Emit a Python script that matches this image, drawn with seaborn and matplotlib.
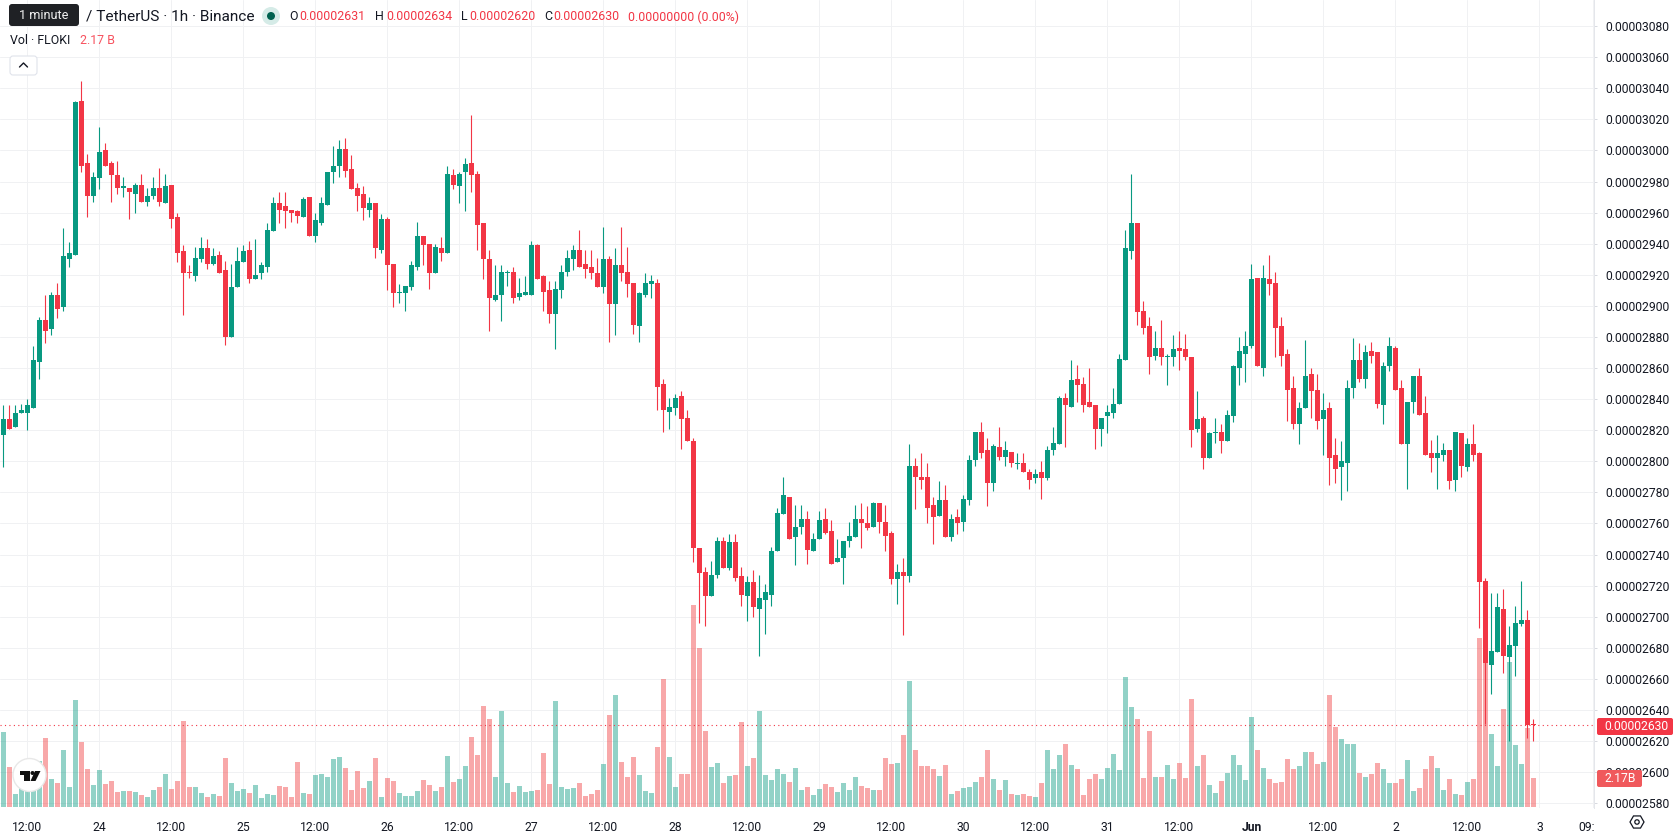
import matplotlib
matplotlib.use("Agg")
import matplotlib.pyplot as plt
import numpy as np
import pandas as pd
import seaborn as sns
from matplotlib.patches import Circle, FancyBboxPatch, Polygon, Rectangle, RegularPolygon
from matplotlib.ticker import FuncFormatter
from matplotlib.transforms import Bbox

# FLOKI/USDT hourly candles, prices in units of 0.00000001
opens = [
    2817, 2827, 2822, 2831, 2831, 2834, 2864, 2891, 2885, 2907,
    2899, 2930, 2933, 3032, 2992, 2971, 2982, 3000, 2992, 2984,
    2976, 2976, 2972, 2978, 2967, 2971, 2976, 2966, 2978, 2957,
    2935, 2922, 2919, 2930, 2937, 2927, 2933, 2923, 2880, 2912,
    2928, 2936, 2917, 2921, 2925, 2948, 2966, 2964, 2962, 2961,
    2957, 2970, 2945, 2953, 2965, 2986, 2990, 3001, 2988, 2976,
    2972, 2962, 2966, 2936, 2956, 2927, 2908, 2908, 2912, 2925,
    2945, 2940, 2921, 2937, 2934, 2984, 2977, 2986, 2992, 2985,
    2953, 2930, 2904, 2907, 2921, 2922, 2906, 2907, 2907, 2939,
    2919, 2910, 2895, 2910, 2922, 2930, 2936, 2927, 2925, 2921,
    2912, 2930, 2901, 2926, 2922, 2915, 2887, 2907, 2914, 2915,
    2850, 2832, 2834, 2842, 2828, 2813, 2744, 2729, 2713, 2727,
    2749, 2731, 2748, 2726, 2713, 2722, 2705, 2711, 2714, 2742,
    2766, 2777, 2751, 2758, 2763, 2742, 2750, 2763, 2755, 2735,
    2738, 2749, 2751, 2763, 2760, 2758, 2773, 2761, 2754, 2724,
    2729, 2726, 2797, 2790, 2790, 2772, 2765, 2775, 2751, 2764,
    2761, 2775, 2801, 2819, 2807, 2786, 2809, 2803, 2806, 2798,
    2799, 2793, 2789, 2793, 2789, 2807, 2811, 2841, 2835, 2853,
    2850, 2838, 2836, 2821, 2829, 2831, 2837, 2865, 2935, 2953,
    2897, 2887, 2868, 2873, 2867, 2867, 2873, 2872, 2867, 2821,
    2828, 2802, 2818, 2819, 2813, 2829, 2860, 2869, 2874, 2918,
    2860, 2917, 2915, 2887, 2869, 2847, 2824, 2834, 2856, 2846,
    2827, 2834, 2804, 2796, 2799, 2847, 2865, 2853, 2871, 2870,
    2836, 2861, 2873, 2847, 2811, 2838, 2855, 2831, 2805, 2802,
    2804, 2807, 2788, 2818, 2796, 2811, 2805, 2723, 2669, 2677,
    2705, 2674, 2681, 2695, 2698, 2631,
]
closes = [
    2827, 2821, 2831, 2833, 2836, 2865, 2891, 2884, 2907, 2898,
    2932, 2934, 3031, 2990, 2971, 2983, 2999, 2990, 2984, 2976,
    2977, 2973, 2978, 2967, 2971, 2976, 2967, 2977, 2956, 2934,
    2921, 2921, 2931, 2937, 2927, 2932, 2921, 2880, 2912, 2929,
    2935, 2917, 2920, 2926, 2949, 2966, 2962, 2961, 2960, 2958,
    2969, 2945, 2955, 2966, 2986, 2990, 3001, 2987, 2975, 2971,
    2963, 2966, 2937, 2956, 2926, 2908, 2909, 2913, 2926, 2945,
    2939, 2921, 2938, 2934, 2985, 2978, 2985, 2991, 2984, 2952,
    2930, 2905, 2907, 2922, 2922, 2905, 2908, 2909, 2939, 2917,
    2909, 2895, 2911, 2922, 2931, 2936, 2925, 2924, 2921, 2912,
    2930, 2901, 2926, 2921, 2914, 2888, 2908, 2915, 2916, 2848,
    2833, 2835, 2841, 2827, 2813, 2744, 2728, 2713, 2727, 2749,
    2731, 2748, 2725, 2714, 2722, 2706, 2712, 2716, 2742, 2767,
    2778, 2750, 2758, 2763, 2743, 2750, 2762, 2754, 2734, 2738,
    2749, 2752, 2763, 2760, 2757, 2773, 2761, 2752, 2724, 2729,
    2726, 2797, 2790, 2788, 2770, 2764, 2775, 2751, 2763, 2760,
    2776, 2801, 2819, 2805, 2786, 2810, 2803, 2807, 2799, 2799,
    2793, 2788, 2792, 2789, 2807, 2812, 2841, 2836, 2852, 2849,
    2836, 2835, 2821, 2828, 2832, 2837, 2866, 2937, 2953, 2896,
    2886, 2867, 2873, 2867, 2868, 2872, 2871, 2867, 2820, 2827,
    2802, 2818, 2819, 2813, 2830, 2861, 2871, 2874, 2917, 2861,
    2918, 2914, 2886, 2868, 2846, 2824, 2834, 2855, 2845, 2826,
    2833, 2802, 2795, 2800, 2847, 2865, 2853, 2870, 2868, 2837,
    2861, 2874, 2846, 2811, 2838, 2855, 2830, 2804, 2802, 2805,
    2807, 2787, 2819, 2797, 2811, 2804, 2722, 2670, 2678, 2706,
    2675, 2682, 2696, 2698, 2630, 2630,
]
highs = [
    2836, 2836, 2836, 2837, 2840, 2874, 2893, 2907, 2909, 2915,
    2950, 2941, 3032, 3045, 2998, 2986, 3015, 3005, 2993, 2993,
    2983, 2976, 2979, 2985, 2976, 2983, 2989, 2985, 2978, 2960,
    2939, 2926, 2938, 2944, 2943, 2937, 2935, 2929, 2927, 2938,
    2939, 2942, 2943, 2928, 2953, 2970, 2973, 2973, 2962, 2962,
    2970, 2970, 2960, 2970, 2986, 3003, 3007, 3008, 2997, 2979,
    2977, 2970, 2966, 2959, 2957, 2927, 2914, 2913, 2929, 2954,
    2945, 2940, 2940, 2944, 2990, 2988, 2986, 2995, 3023, 2987,
    2953, 2936, 2926, 2926, 2923, 2925, 2918, 2919, 2942, 2940,
    2920, 2916, 2916, 2926, 2936, 2939, 2949, 2936, 2936, 2931,
    2951, 2932, 2937, 2951, 2938, 2915, 2909, 2921, 2920, 2917,
    2853, 2841, 2843, 2845, 2833, 2815, 2744, 2732, 2736, 2751,
    2751, 2753, 2753, 2732, 2726, 2730, 2727, 2721, 2745, 2770,
    2790, 2777, 2772, 2772, 2768, 2754, 2768, 2770, 2762, 2750,
    2749, 2761, 2772, 2773, 2771, 2774, 2773, 2772, 2755, 2734,
    2738, 2811, 2802, 2805, 2799, 2777, 2787, 2785, 2766, 2769,
    2778, 2804, 2819, 2825, 2815, 2811, 2822, 2813, 2806, 2805,
    2805, 2795, 2795, 2800, 2810, 2822, 2842, 2844, 2865, 2862,
    2854, 2860, 2836, 2828, 2836, 2847, 2869, 2949, 2985, 2953,
    2903, 2893, 2884, 2891, 2869, 2881, 2884, 2882, 2867, 2845,
    2829, 2819, 2828, 2824, 2833, 2862, 2880, 2884, 2927, 2918,
    2926, 2933, 2922, 2893, 2872, 2855, 2838, 2878, 2860, 2856,
    2844, 2838, 2815, 2813, 2852, 2879, 2876, 2875, 2877, 2870,
    2864, 2880, 2874, 2852, 2838, 2855, 2860, 2842, 2814, 2817,
    2812, 2807, 2819, 2818, 2815, 2824, 2806, 2725, 2715, 2715,
    2718, 2694, 2707, 2723, 2704, 2634,
]
lows = [
    2796, 2821, 2822, 2831, 2820, 2834, 2853, 2876, 2881, 2892,
    2897, 2925, 2933, 2986, 2957, 2967, 2975, 2990, 2967, 2972,
    2970, 2956, 2960, 2967, 2964, 2969, 2964, 2966, 2950, 2928,
    2894, 2918, 2916, 2928, 2924, 2926, 2921, 2875, 2880, 2912,
    2928, 2915, 2917, 2917, 2922, 2948, 2953, 2950, 2954, 2953,
    2957, 2945, 2941, 2952, 2965, 2979, 2983, 2983, 2975, 2961,
    2955, 2957, 2931, 2934, 2910, 2899, 2902, 2897, 2910, 2923,
    2926, 2911, 2921, 2929, 2934, 2975, 2966, 2961, 2973, 2936,
    2917, 2884, 2903, 2890, 2913, 2902, 2904, 2907, 2907, 2917,
    2897, 2889, 2872, 2905, 2919, 2923, 2925, 2918, 2917, 2912,
    2908, 2877, 2881, 2916, 2906, 2882, 2877, 2906, 2905, 2833,
    2819, 2821, 2830, 2808, 2813, 2735, 2696, 2694, 2713, 2725,
    2731, 2730, 2723, 2707, 2697, 2700, 2675, 2689, 2707, 2742,
    2766, 2750, 2733, 2753, 2734, 2742, 2750, 2753, 2734, 2735,
    2721, 2745, 2751, 2744, 2756, 2758, 2754, 2742, 2721, 2708,
    2688, 2722, 2769, 2782, 2760, 2747, 2765, 2751, 2749, 2753,
    2755, 2772, 2797, 2802, 2771, 2781, 2801, 2797, 2796, 2795,
    2793, 2782, 2786, 2776, 2788, 2804, 2811, 2809, 2835, 2838,
    2832, 2835, 2808, 2810, 2818, 2828, 2837, 2865, 2930, 2888,
    2882, 2856, 2865, 2862, 2849, 2861, 2859, 2865, 2809, 2819,
    2795, 2802, 2812, 2805, 2813, 2825, 2849, 2851, 2873, 2861,
    2855, 2907, 2867, 2861, 2826, 2821, 2811, 2834, 2828, 2821,
    2804, 2785, 2786, 2775, 2781, 2841, 2851, 2847, 2863, 2834,
    2824, 2858, 2846, 2811, 2782, 2831, 2830, 2804, 2793, 2782,
    2800, 2782, 2781, 2790, 2794, 2800, 2693, 2631, 2650, 2677,
    2664, 2620, 2662, 2694, 2622, 2620,
]
# Hourly volume, billions of FLOKI
volumes = [
    5.67, 3.02, 0.98, 1.40, 1.30, 1.50, 3.48, 5.21, 2.12, 1.81,
    4.31, 1.51, 8.09, 4.91, 2.87, 1.66, 2.80, 1.74, 1.96, 1.13,
    1.21, 1.21, 1.13, 0.91, 0.76, 1.28, 1.51, 2.49, 1.36, 1.96,
    6.50, 1.51, 1.51, 1.06, 0.76, 0.98, 0.83, 3.70, 1.81, 1.21,
    1.36, 1.06, 1.66, 0.68, 0.98, 0.91, 1.59, 1.51, 0.76, 3.40,
    1.06, 0.98, 2.42, 2.49, 2.27, 3.63, 3.78, 2.95, 1.28, 2.72,
    1.44, 1.96, 3.70, 0.76, 2.19, 1.96, 1.06, 0.83, 0.83, 1.21,
    2.04, 1.66, 1.21, 1.51, 3.85, 1.89, 2.12, 3.10, 5.29, 3.93,
    7.63, 6.65, 2.27, 7.25, 1.81, 1.13, 1.59, 1.13, 1.21, 1.28,
    4.08, 1.74, 8.01, 1.51, 1.36, 1.44, 1.81, 0.83, 0.98, 1.28,
    3.25, 6.95, 8.46, 3.40, 2.27, 3.78, 2.42, 1.21, 1.06, 4.53,
    9.67, 3.78, 1.51, 2.49, 2.49, 15.26, 12.02, 5.74, 3.02, 3.32,
    1.81, 2.34, 2.42, 6.42, 3.10, 3.70, 7.25, 2.42, 2.04, 2.87,
    2.49, 1.89, 2.95, 1.28, 1.51, 0.91, 1.36, 1.74, 1.51, 1.13,
    1.81, 1.28, 2.27, 1.59, 1.44, 1.28, 1.28, 3.70, 3.25, 3.32,
    5.44, 9.52, 4.31, 3.10, 3.10, 2.87, 2.34, 3.17, 0.98, 1.21,
    1.44, 1.51, 1.89, 2.27, 4.31, 2.12, 1.28, 2.04, 0.98, 0.91,
    0.98, 0.83, 0.76, 1.81, 4.31, 2.87, 3.93, 4.76, 3.17, 2.87,
    0.91, 2.12, 2.49, 2.12, 2.95, 4.01, 2.80, 9.82, 7.56, 6.65,
    2.19, 5.74, 2.27, 2.27, 3.17, 2.12, 3.32, 2.19, 8.16, 3.10,
    3.90, 1.64, 1.03, 1.94, 2.54, 3.90, 3.15, 2.02, 6.78, 4.28,
    2.92, 2.09, 1.79, 1.86, 3.60, 2.85, 3.07, 4.13, 4.13, 3.22,
    3.38, 8.44, 6.02, 5.11, 4.74, 4.74, 2.54, 2.24, 2.47, 3.30,
    2.85, 1.79, 1.79, 2.09, 3.53, 1.18, 1.41, 2.85, 3.83, 2.92,
    1.26, 2.09, 0.96, 0.88, 1.86, 2.09, 12.75, 10.88, 5.49, 3.07,
    7.38, 10.93, 4.66, 3.22, 5.97, 2.17,
]
# Time axis: candle index of each label
tick_hours = [4, 16, 28, 40, 52, 64, 76, 88, 100, 112, 124, 136, 148, 160, 172,
              184, 196, 208, 220, 232, 244, 256, 265]
tick_labels = ["12:00", "24", "12:00", "25", "12:00", "26", "12:00", "27", "12:00",
               "28", "12:00", "29", "12:00", "30", "12:00", "31", "12:00", "Jun",
               "12:00", "2", "12:00", "3", "09:00"]
price_ticks = list(range(2580, 3100, 20))

UP = "#089981"
DOWN = "#F23645"
INK = "#131722"
GRID = "#F0F1F3"
W, H = 1678, 835

sns.set_theme(style="white")
plt.rcParams["font.family"] = ["Roboto", "DejaVu Sans"]

df = pd.DataFrame({"hour": np.arange(len(opens)), "open": opens, "close": closes,
                   "high": highs, "low": lows, "volume": volumes})
df["rising"] = df["close"] > df["open"]
df["bottom"] = df[["open", "close"]].min(axis=1)
df["body"] = (df["close"] - df["open"]).abs()

fig = plt.figure(figsize=(W / 100, H / 100), dpi=100, facecolor="white")
pane = [0, (H - 808) / H, 1594 / W, 808 / H]
xlim = (-3.4 / 6, (1594 - 3.4) / 6)
ylim = (3040 - (808 - 88.3) / 1.554, 3040 + 88.3 / 1.554)

# Back layer: price scale, time scale and grid
ax = fig.add_axes(pane)
ax.set_xlim(xlim)
ax.set_ylim(ylim)
ax.set_yticks(price_ticks)
ax.yaxis.set_major_formatter(FuncFormatter(lambda v, _: f"{v * 1e-8:.8f}"))
ax.set_xticks(tick_hours, tick_labels)
ax.grid(True, color=GRID, linewidth=0.72)
ax.tick_params(axis="y", which="major", left=False, right=True, labelleft=False,
               labelright=True, length=2.2, width=0.72, color="#D8DAE0",
               pad=5.8, labelsize=8.7, labelcolor=INK)
ax.tick_params(axis="x", bottom=False, pad=3.5, labelsize=8.7, labelcolor=INK)
for side in ("top", "left", "bottom"):
    ax.spines[side].set_visible(False)
ax.spines["right"].set_color("#E4E6EB")
ax.spines["right"].set_linewidth(0.72)
for label in ax.get_xticklabels():
    if label.get_text() == "Jun":
        label.set_fontweight("bold")
    if label.get_text() == "09:00":
        # The last time label runs under the price scale
        label.set_clip_on(True)
        label.set_clip_box(Bbox([[0, 0], [1594, H]]))

# Volume layer, 13.23 px per billion above the pane's baseline
ax_vol = fig.add_axes(pane, sharex=None)
ax_vol.patch.set_alpha(0)
for mask, colour in ((df["rising"], "#089981"), (~df["rising"], "#F03A3C")):
    sns.barplot(data=df[mask], x="hour", y="volume", native_scale=True, color=colour,
                saturation=1, alpha=0.44, width=0.83, errorbar=None, linewidth=0, ax=ax_vol)
ax_vol.set_xlim(xlim)
ax_vol.set_ylim(-1 / 13.23, 807 / 13.23)
ax_vol.axis("off")

# Candle layer
ax_c = fig.add_axes(pane)
ax_c.patch.set_alpha(0)
for mask, colour in ((df["rising"], UP), (~df["rising"], DOWN)):
    part = df[mask]
    ax_c.vlines(part["hour"], part["low"], part["high"], color=colour, linewidth=0.8, snap=True)
    sns.barplot(data=part, x="hour", y="body", bottom=part["bottom"].to_numpy(), native_scale=True,
                color=colour, saturation=1, width=0.83, errorbar=None, linewidth=0, ax=ax_c)
ax_c.axhline(closes[-1], color=DOWN, linewidth=0.8, linestyle=(0, (1, 3)))
ax_c.set_xlim(xlim)
ax_c.set_ylim(ylim)
ax_c.axis("off")

# Overlay in pixel coordinates for the legend text, badges and widgets
ov = fig.add_axes([0, 0, 1, 1], zorder=10)
ov.set_xlim(0, W)
ov.set_ylim(H, 0)
ov.axis("off")
ov.patch.set_alpha(0)

ov.text(86, 16.5, "/ TetherUS · 1h · Binance", fontsize=11.1, color=INK, va="center")
ov.add_patch(Circle((271, 16), 9, color="#D5EBE7", lw=0))
ov.add_patch(Circle((271, 16), 4, color="#00614F", lw=0))
for x, key, value in ((289, "O", f"{opens[-1] * 1e-8:.8f}"), (375, "H", f"{highs[-1] * 1e-8:.8f}"),
                      (461, "L", f"{lows[-1] * 1e-8:.8f}"), (544, "C", f"{closes[-1] * 1e-8:.8f}")):
    ov.text(x, 17, key, fontsize=8.9, color=INK, va="center")
    ov.text(x + {"O": 10, "H": 11, "L": 8, "C": 9}[key], 17, value, fontsize=8.9, color=DOWN, va="center")
ov.text(628, 17, "0.00000000 (0.00%)", fontsize=8.9, color=DOWN, va="center")

ov.text(9.5, 40, "Vol · FLOKI", fontsize=8.9, color=INK, va="center")
ov.text(80, 40, "2.17 B", fontsize=8.9, color="#F7525F", va="center")

ov.add_patch(FancyBboxPatch((10, 56), 27, 19, boxstyle="round,pad=0,rounding_size=3",
                            fc="white", ec="#E0E3EB", lw=0.8))
ov.plot([19.5, 23.5, 27.5], [67, 63, 67], color=INK, lw=1.0, solid_capstyle="round")

# Tooltip above the title
ov.add_patch(FancyBboxPatch((9, 4), 70, 22, boxstyle="round,pad=0,rounding_size=3",
                            fc="#1F2125", ec="none"))
ov.text(44, 15.5, "1 minute", fontsize=9.2, color="#F0F0F0", ha="center", va="center")

# Last price and last volume badges on the scale
ov.add_patch(FancyBboxPatch((1597, 718), 76, 17, boxstyle="round,pad=0,rounding_size=2",
                            fc=DOWN, ec="none"))
ov.text(1604, 726.5, f"{closes[-1] * 1e-8:.8f}", fontsize=8.7, color="white", va="center")
ov.add_patch(FancyBboxPatch((1597, 770), 45, 17, boxstyle="round,pad=0,rounding_size=2",
                            fc="#F0595C", ec="none"))
ov.text(1604, 778.5, f"{volumes[-1]:.2f}B", fontsize=8.7, color="white", va="center")

# Settings glyph under the scale
ov.add_patch(RegularPolygon((1637, 822), 6, radius=7, orientation=np.pi / 6, fc="none", ec=INK, lw=0.9))
ov.add_patch(Circle((1637, 822), 2.2, fc="none", ec=INK, lw=0.9))

# Logo badge
ov.add_patch(Circle((29.5, 775), 16.5, fc="white", ec="#E8E8E8", lw=1.0))
ov.add_patch(Rectangle((19.5, 771), 10, 4, color="#111111", lw=0))
ov.add_patch(Rectangle((24, 771), 5.5, 10, color="#111111", lw=0))
ov.add_patch(Circle((32.5, 773), 2, color="#111111", lw=0))
ov.add_patch(Polygon([(35, 771), (40.5, 771), (35.5, 781), (30.5, 781)], color="#111111", lw=0))

fig.savefig("out.png", dpi=100)
